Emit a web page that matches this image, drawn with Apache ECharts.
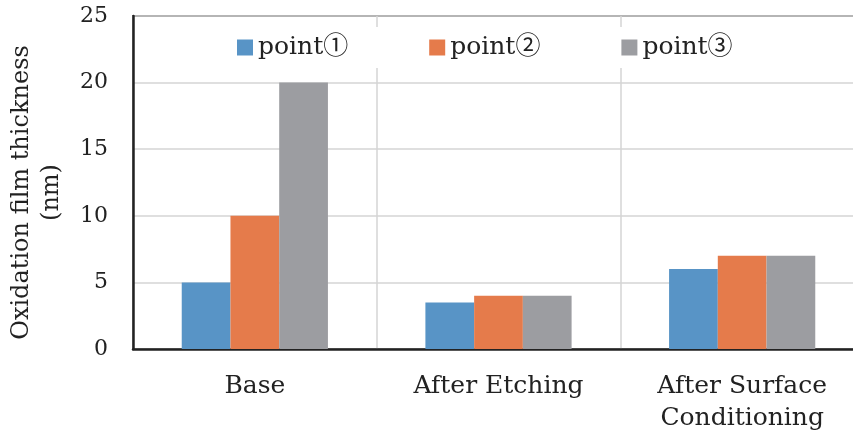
<!DOCTYPE html>
<html>
<head>
<meta charset="utf-8">
<script src="https://cdn.jsdelivr.net/npm/echarts@6/dist/echarts.min.js"></script>
<style>
  html, body { margin: 0; padding: 0; background: #fff; }
  #chart { width: 853px; height: 435px; }
</style>
</head>
<body>
<div id="chart"></div>
<script>
var categories = ['Base', 'After Etching', 'After Surface\nConditioning'];
var point1 = [5, 3.5, 6];
var point2 = [10, 4, 7];
var point3 = [20, 4, 7];
var seriesNames = ['point①', 'point②', 'point③'];

var font = '"DejaVu Serif", "Liberation Serif", "Noto Sans CJK JP", serif';
var colors = ['#5894c6', '#e57b4b', '#9c9da1'];

var chart = echarts.init(document.getElementById('chart'));
var option = {
    backgroundColor: '#fff',
    animation: false,
    color: colors,
    textStyle: { fontFamily: font, color: '#222' },
    grid: {
        left: 133,
        top: 16,
        bottom: 86,
        right: -11,
        outerBoundsMode: 'none',
        containLabel: false,
        show: true,
        borderColor: '#222',
        borderWidth: 1.5,
        backgroundColor: 'transparent'
    },
    legend: {
        left: 225,
        top: 27,
        padding: [8, 12, 8, 12],
        backgroundColor: '#fff',
        itemWidth: 16,
        itemHeight: 16,
        itemGap: 81,
        icon: 'rect',
        textStyle: { fontFamily: font, fontSize: 25, color: '#222' },
        data: seriesNames
    },
    xAxis: {
        type: 'category',
        data: categories,
        axisTick: { show: false },
        axisLine: { lineStyle: { color: '#222', width: 2.5 } },
        axisLabel: {
            interval: 0,
            margin: 21,
            fontSize: 25,
            lineHeight: 32,
            color: '#222',
            fontFamily: font
        },
        splitLine: { show: true, lineStyle: { color: '#d4d4d4', width: 1.5 } }
    },
    yAxis: {
        type: 'value',
        min: 0,
        max: 25,
        interval: 5,
        name: 'Oxidation film thickness\n(nm)',
        nameLocation: 'middle',
        nameGap: 66,
        nameTextStyle: { fontFamily: font, fontSize: 24, lineHeight: 30, color: '#222', padding: [0, 20, 0, 0] },
        axisLine: { show: true, lineStyle: { color: '#222', width: 2.5 } },
        axisTick: { show: false },
        axisLabel: { margin: 25, fontSize: 22, color: '#222', fontFamily: font },
        splitLine: { show: true, lineStyle: { color: '#d4d4d4', width: 1.5 } }
    },
    series: [
        { name: seriesNames[0], type: 'bar', data: point1, barGap: '0%', barCategoryGap: '40%' },
        { name: seriesNames[1], type: 'bar', data: point2, barGap: '0%', barCategoryGap: '40%' },
        { name: seriesNames[2], type: 'bar', data: point3, barGap: '0%', barCategoryGap: '40%' }
    ]
};
chart.setOption(option);
</script>
</body>
</html>
